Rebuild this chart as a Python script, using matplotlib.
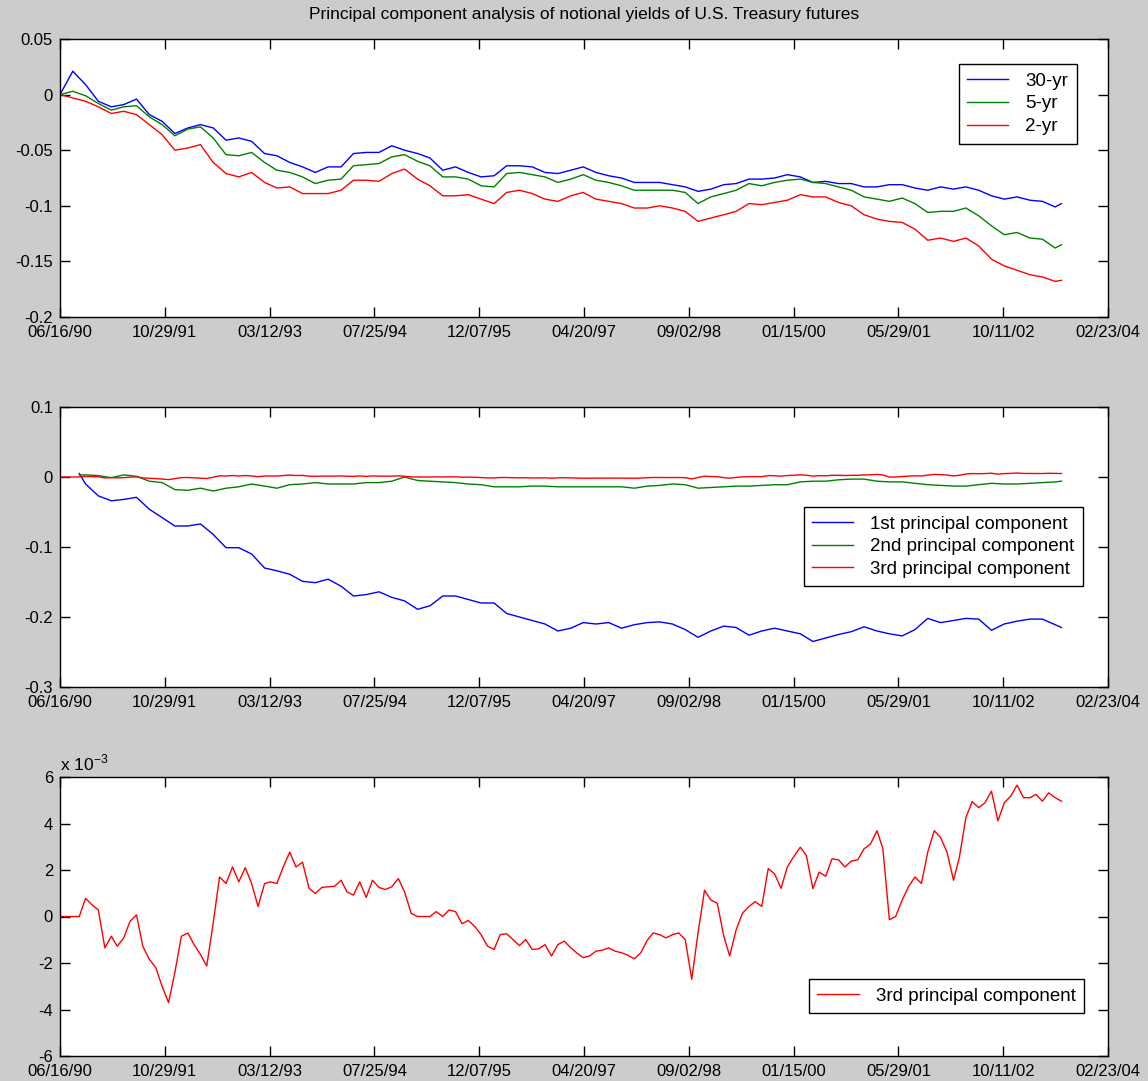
import matplotlib
matplotlib.use("Agg")
import matplotlib.pyplot as plt
import pandas as pd

plt.rcParams['font.family'] = ['Liberation Sans', 'DejaVu Sans']
plt.rcParams['mathtext.fontset'] = 'custom'
plt.rcParams['mathtext.rm'] = 'Liberation Sans'

months = """
1990-06 1990-07 1990-08 1990-09 1990-10 1990-11 1990-12
1991-01 1991-02 1991-03 1991-04 1991-05 1991-06 1991-07 1991-08 1991-09 1991-10 1991-11 1991-12
1992-01 1992-02 1992-03 1992-04 1992-05 1992-06 1992-07 1992-08 1992-09 1992-10 1992-11 1992-12
1993-01 1993-02 1993-03 1993-04 1993-05 1993-06 1993-07 1993-08 1993-09 1993-10 1993-11 1993-12
1994-01 1994-02 1994-03 1994-04 1994-05 1994-06 1994-07 1994-08 1994-09 1994-10 1994-11 1994-12
1995-01 1995-02 1995-03 1995-04 1995-05 1995-06 1995-07 1995-08 1995-09 1995-10 1995-11 1995-12
1996-01 1996-02 1996-03 1996-04 1996-05 1996-06 1996-07 1996-08 1996-09 1996-10 1996-11 1996-12
1997-01 1997-02 1997-03 1997-04 1997-05 1997-06 1997-07 1997-08 1997-09 1997-10 1997-11 1997-12
1998-01 1998-02 1998-03 1998-04 1998-05 1998-06 1998-07 1998-08 1998-09 1998-10 1998-11 1998-12
1999-01 1999-02 1999-03 1999-04 1999-05 1999-06 1999-07 1999-08 1999-09 1999-10 1999-11 1999-12
2000-01 2000-02 2000-03 2000-04 2000-05 2000-06 2000-07 2000-08 2000-09 2000-10 2000-11 2000-12
2001-01 2001-02 2001-03 2001-04 2001-05 2001-06 2001-07 2001-08 2001-09 2001-10 2001-11 2001-12
2002-01 2002-02 2002-03 2002-04 2002-05 2002-06 2002-07 2002-08 2002-09 2002-10 2002-11 2002-12
2003-01 2003-02 2003-03 2003-04 2003-05 2003-06 2003-07
""".split()

# notional yields, sampled every second month (+ last month)
yld_months = months[0::2] + [months[-1]]
yld_30 = [0.000, 0.021, 0.009, -0.006, -0.011, -0.009, -0.004, -0.018, -0.024, -0.035,
          -0.030, -0.027, -0.030, -0.041, -0.039, -0.042, -0.053, -0.055, -0.061, -0.065,
          -0.070, -0.065, -0.065, -0.053, -0.052, -0.052, -0.046, -0.050, -0.053, -0.057,
          -0.068, -0.065, -0.070, -0.074, -0.073, -0.064, -0.064, -0.065, -0.070, -0.071,
          -0.068, -0.065, -0.070, -0.073, -0.075, -0.079, -0.079, -0.079, -0.081, -0.083,
          -0.087, -0.085, -0.081, -0.080, -0.076, -0.076, -0.075, -0.072, -0.074, -0.079,
          -0.078, -0.080, -0.080, -0.083, -0.083, -0.081, -0.081, -0.084, -0.086, -0.083,
          -0.085, -0.083, -0.086, -0.091, -0.094, -0.092, -0.095, -0.096, -0.101, -0.098]
yld_5 = [0.000, 0.003, -0.001, -0.008, -0.014, -0.011, -0.010, -0.020, -0.027, -0.037,
         -0.031, -0.029, -0.039, -0.054, -0.055, -0.052, -0.061, -0.068, -0.070, -0.074,
         -0.080, -0.077, -0.076, -0.064, -0.063, -0.062, -0.056, -0.054, -0.060, -0.064,
         -0.074, -0.074, -0.076, -0.082, -0.083, -0.071, -0.070, -0.072, -0.074, -0.079,
         -0.076, -0.072, -0.077, -0.079, -0.082, -0.086, -0.086, -0.086, -0.086, -0.088,
         -0.098, -0.092, -0.089, -0.086, -0.080, -0.082, -0.079, -0.077, -0.076, -0.079,
         -0.080, -0.083, -0.086, -0.092, -0.094, -0.096, -0.093, -0.098, -0.106, -0.105,
         -0.105, -0.102, -0.109, -0.118, -0.126, -0.124, -0.129, -0.130, -0.138, -0.135]
yld_2 = [0.000, -0.003, -0.006, -0.011, -0.017, -0.015, -0.018, -0.027, -0.036, -0.050,
         -0.048, -0.045, -0.061, -0.071, -0.074, -0.070, -0.079, -0.084, -0.083, -0.089,
         -0.089, -0.089, -0.086, -0.077, -0.077, -0.078, -0.071, -0.067, -0.076, -0.082,
         -0.091, -0.091, -0.090, -0.094, -0.098, -0.088, -0.086, -0.089, -0.094, -0.096,
         -0.091, -0.088, -0.094, -0.096, -0.098, -0.102, -0.102, -0.100, -0.102, -0.105,
         -0.114, -0.111, -0.108, -0.105, -0.098, -0.099, -0.097, -0.095, -0.090, -0.092,
         -0.092, -0.097, -0.100, -0.108, -0.112, -0.114, -0.115, -0.121, -0.131, -0.129,
         -0.132, -0.129, -0.136, -0.148, -0.154, -0.158, -0.162, -0.164, -0.168, -0.167]

# principal components 1 and 2 (start in Sep 1990)
pc_months = ['1990-09'] + yld_months[2:]
pc1 = [0.005, -0.010, -0.027, -0.034, -0.032, -0.029, -0.046, -0.058, -0.070, -0.070,
       -0.067, -0.082, -0.101, -0.101, -0.110, -0.130, -0.134, -0.139, -0.149, -0.151,
       -0.146, -0.156, -0.170, -0.168, -0.164, -0.172, -0.177, -0.189, -0.184, -0.170,
       -0.170, -0.175, -0.180, -0.180, -0.195, -0.200, -0.205, -0.210, -0.220, -0.216,
       -0.208, -0.210, -0.208, -0.216, -0.211, -0.208, -0.207, -0.210, -0.218, -0.229,
       -0.220, -0.213, -0.215, -0.226, -0.220, -0.216, -0.220, -0.224, -0.235, -0.230,
       -0.225, -0.221, -0.214, -0.220, -0.224, -0.227, -0.218, -0.202, -0.208, -0.205,
       -0.202, -0.203, -0.219, -0.210, -0.206, -0.203, -0.203, -0.211, -0.215]
pc2 = [0.003, 0.003, 0.002, -0.001, 0.003, 0.001, -0.006, -0.008, -0.018, -0.019,
       -0.016, -0.020, -0.016, -0.014, -0.010, -0.013, -0.016, -0.011, -0.010, -0.008,
       -0.010, -0.010, -0.010, -0.008, -0.008, -0.006, 0.000, -0.005, -0.006, -0.007,
       -0.008, -0.010, -0.011, -0.014, -0.014, -0.014, -0.013, -0.013, -0.014, -0.014,
       -0.014, -0.014, -0.014, -0.014, -0.016, -0.013, -0.012, -0.010, -0.011, -0.016,
       -0.015, -0.014, -0.013, -0.013, -0.012, -0.011, -0.011, -0.007, -0.006, -0.006,
       -0.004, -0.003, -0.003, -0.006, -0.007, -0.007, -0.009, -0.011, -0.012, -0.013,
       -0.013, -0.011, -0.009, -0.010, -0.010, -0.009, -0.008, -0.007, -0.006]

# 3rd principal component, monthly, in units of 1e-3
pc3_e3 = [0, 0, 0, 0, 0.78, 0.50, 0.28, -1.35, -0.85, -1.28,
          -0.92, -0.21, 0.07, -1.28, -1.84, -2.20, -3.00, -3.70, -2.41, -0.85,
          -0.71, -1.20, -1.63, -2.13, -0.28, 1.70, 1.42, 2.13, 1.49, 2.10,
          1.42, 0.43, 1.42, 1.49, 1.42, 2.13, 2.77, 2.13, 2.34, 1.21,
          0.99, 1.25, 1.28, 1.30, 1.56, 1.06, 0.92, 1.49, 0.82, 1.56,
          1.25, 1.16, 1.28, 1.63, 1.06, 0.14, 0.00, 0.00, 0.00, 0.21,
          0.00, 0.28, 0.21, -0.31, -0.17, -0.43, -0.78, -1.28, -1.42, -0.78,
          -0.74, -0.99, -1.25, -0.99, -1.42, -1.39, -1.21, -1.70, -1.21, -1.06,
          -1.35, -1.56, -1.77, -1.70, -1.49, -1.45, -1.35, -1.49, -1.56, -1.67,
          -1.82, -1.56, -1.02, -0.71, -0.78, -0.92, -0.78, -0.71, -0.99, -2.70,
          -0.71, 1.13, 0.71, 0.57, -0.85, -1.70, -0.57, 0.14, 0.43, 0.64,
          0.43, 2.06, 1.84, 1.21, 2.13, 2.58, 2.98, 2.62, 1.20, 1.91,
          1.73, 2.48, 2.44, 2.13, 2.38, 2.44, 2.91, 3.12, 3.69, 2.91,
          -0.14, 0.00, 0.71, 1.28, 1.70, 1.42, 2.77, 3.69, 3.40, 2.77,
          1.56, 2.55, 4.26, 4.94, 4.68, 4.89, 5.39, 4.11, 4.89, 5.18,
          5.65, 5.11, 5.11, 5.25, 4.96, 5.32, 5.11, 4.96]

xtick_labels = ['06/16/90', '10/29/91', '03/12/93', '07/25/94', '12/07/95', '04/20/97',
                '09/02/98', '01/15/00', '05/29/01', '10/11/02', '02/23/04']
y1_ticks = [0.05, 0, -0.05, -0.1, -0.15, -0.2]
y2_ticks = [0.1, 0, -0.1, -0.2, -0.3]
y3_ticks = [6, 4, 2, 0, -2, -4, -6]

title = 'Principal component analysis of notional yields of U.S. Treasury futures'


def to_dates(lst):
    return pd.to_datetime([m + '-16' for m in lst])


xticks = pd.to_datetime(xtick_labels, format='%m/%d/%y')
d_yld = to_dates(yld_months)
d_pc = to_dates(pc_months)
d_m = to_dates(months)
pc3 = [v * 1e-3 for v in pc3_e3]

BLUE, GREEN, RED = '#0000ff', '#008000', '#ff0000'

fig = plt.figure(figsize=(11.48, 10.81), dpi=100, facecolor='#cccccc')
W, H = 1148, 1081
ax1 = fig.add_axes([60 / W, 1 - 317 / H, 1048 / W, 278 / H])
ax2 = fig.add_axes([60 / W, 1 - 687 / H, 1048 / W, 280 / H])
ax3 = fig.add_axes([60 / W, 1 - 1056 / H, 1048 / W, 279 / H])

ax1.plot(d_yld, yld_30, color=BLUE, lw=1.0, label='30-yr')
ax1.plot(d_yld, yld_5, color=GREEN, lw=1.0, label='5-yr')
ax1.plot(d_yld, yld_2, color=RED, lw=1.0, label='2-yr')

ax2.plot(d_pc, pc1, color=BLUE, lw=1.0, label='1st principal component')
ax2.plot(d_pc, pc2, color=GREEN, lw=1.0, label='2nd principal component')
ax2.plot(d_m, pc3, color=RED, lw=1.0, label='3rd principal component')

ax3.plot(d_m, pc3_e3, color=RED, lw=1.0, label='3rd principal component')

for ax, yt in [(ax1, y1_ticks), (ax2, y2_ticks), (ax3, y3_ticks)]:
    ax.set_facecolor('white')
    ax.set_xlim(xticks[0], xticks[-1])
    ax.set_ylim(min(yt), max(yt))
    ax.set_xticks(xticks, labels=xtick_labels)
    ax.set_yticks(yt, labels=[f'{t:g}' for t in yt])
    ax.tick_params(direction='in', top=True, right=True, length=7, width=1,
                   labelsize=12, colors='black')
    ax.tick_params(axis='x', pad=6)
    ax.tick_params(axis='y', pad=5)
    for s in ax.spines.values():
        s.set_linewidth(1.0)
        s.set_color('black')

leg_kw = dict(fontsize=13.5, fancybox=False, framealpha=1, edgecolor='black',
              borderaxespad=0, handlelength=2.2, handletextpad=0.9,
              labelspacing=0.3, borderpad=0.45)
l1 = ax1.legend(loc='upper right', bbox_to_anchor=(0.970, 0.910), **leg_kw)
l2 = ax2.legend(loc='upper right', bbox_to_anchor=(0.976, 0.643), **leg_kw)
l3 = ax3.legend(loc='upper right', bbox_to_anchor=(0.977, 0.276), **leg_kw)
for lg in (l1, l2, l3):
    lg.get_frame().set_linewidth(1.0)

ax3.text(0.0, 1.012, r'x 10$^{-3}$', transform=ax3.transAxes, ha='left',
         va='bottom', fontsize=12.5)

fig.text(584 / W, 1 - 15 / H, title, ha='center', va='center', fontsize=12.5)

fig.savefig('out.png', dpi=100, facecolor=fig.get_facecolor())
